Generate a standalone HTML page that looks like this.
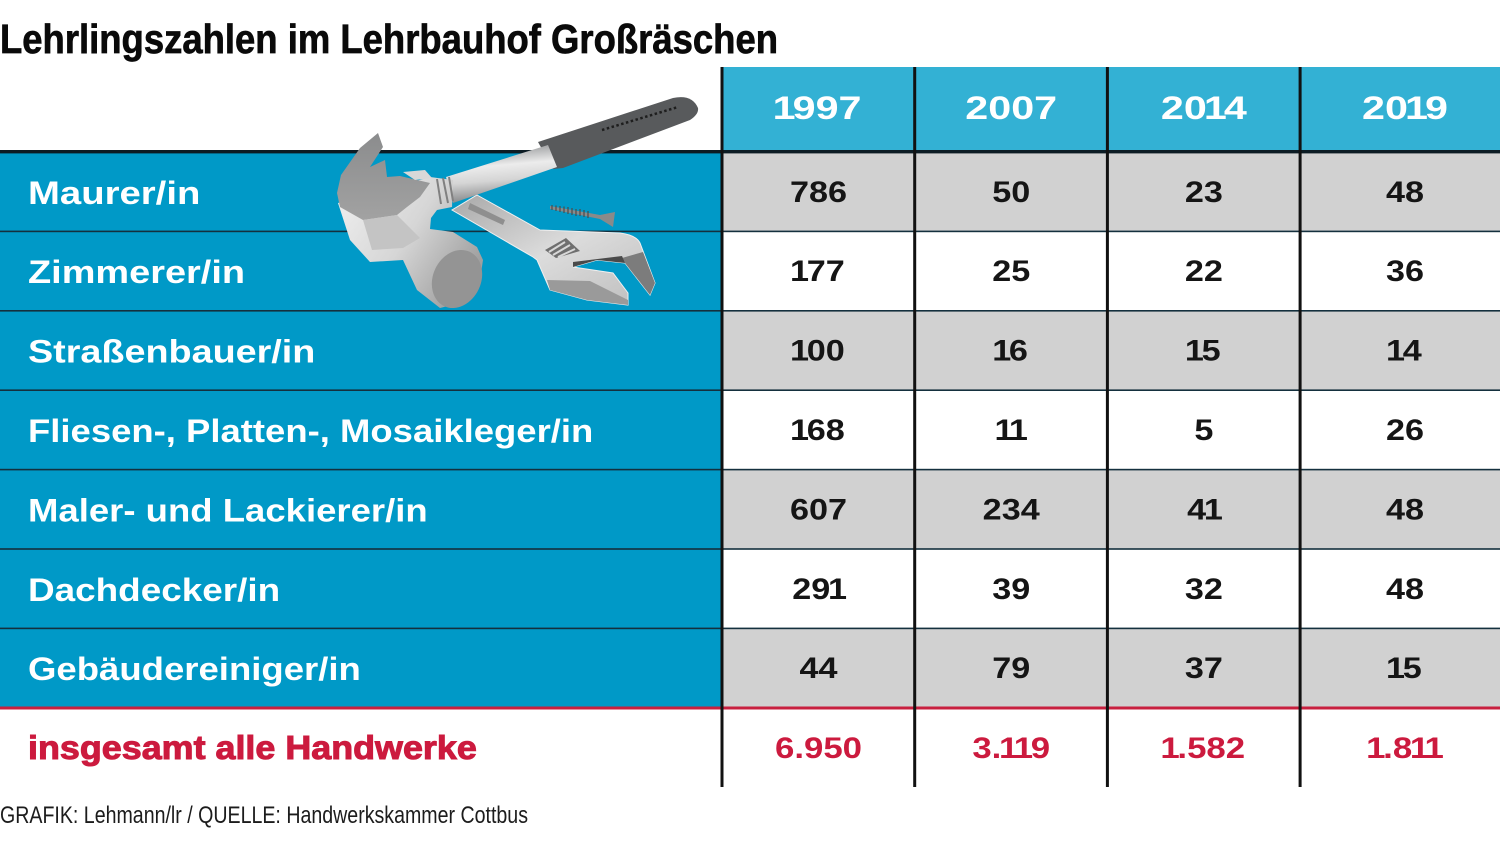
<!DOCTYPE html>
<html lang="de">
<head>
<meta charset="utf-8">
<title>Lehrlingszahlen im Lehrbauhof Großräschen</title>
<style>
html,body{margin:0;padding:0;background:#fff;width:1500px;height:844px;overflow:hidden}
svg{display:block}
text{font-family:"Liberation Sans",sans-serif}
</style>
</head>
<body>
<svg id="chart" xmlns="http://www.w3.org/2000/svg" width="1500" height="844" viewBox="0 0 1500 844">
  <defs>
    <linearGradient id="shaft" x1="0.42" y1="0" x2="0.58" y2="1">
      <stop offset="0" stop-color="#8f9193"/><stop offset=".35" stop-color="#ececec"/><stop offset=".6" stop-color="#d5d5d5"/><stop offset="1" stop-color="#77797b"/>
    </linearGradient>
    <linearGradient id="headGrad" x1="0" y1="0" x2="0" y2="1">
      <stop offset="0" stop-color="#8b8c8d"/><stop offset="1" stop-color="#a2a2a2"/>
    </linearGradient>
    <linearGradient id="cyl" x1="0" y1="0" x2="1" y2="0.6">
      <stop offset="0" stop-color="#f2f2f2"/><stop offset=".55" stop-color="#d6d6d6"/><stop offset="1" stop-color="#a0a0a0"/>
    </linearGradient>
    <linearGradient id="wrench" x1="0" y1="0" x2="1" y2="1">
      <stop offset="0" stop-color="#a8a8a8"/><stop offset=".5" stop-color="#dcdcdc"/><stop offset="1" stop-color="#bdbdbd"/>
    </linearGradient>
  </defs>
  <rect width="1500" height="844" fill="#fff"/>
  <text x="0" y="53" font-size="41" font-weight="700" fill="#0a0a0a" stroke="#0a0a0a" stroke-width="0.7" textLength="778" lengthAdjust="spacingAndGlyphs">Lehrlingszahlen im Lehrbauhof Großräschen</text>
  <g id="table"></g>
  <g>
    <g>
      <path d="M477 195 L540 230 L620 233 Q636 235 640 243 L655 283 L650 295 L625 263 L597 260 L573 267 L613 273 L628 293 L628 305 L587 300 L550 290 L537 260 L533 257 L452 210 Z" fill="url(#wrench)" stroke="#f0f0f0" stroke-width="1"/>
      <path d="M545 250 L566 238 L580 251 L556 258 Z" fill="#6f6f6f"/>
      <path d="M549 252 L565 242 M553 255 L570 245 M558 257 L575 249" stroke="#d8d8d8" stroke-width="2"/>
      <path d="M625 263 L650 295 L655 283 L643 252 L622 258 Z" fill="#7c7c7c"/>
      <path d="M573 262 L622 256 L625 263 L597 260 L573 267 Z" fill="#4a4a4a"/>
      <path d="M547 280 L590 281 L628 300 L628 305 L587 300 L550 290 Z" fill="#9a9a9a"/>
      <path d="M470 203 L505 220 L503 225 L468 209 Z" fill="#8f8f8f"/>
    </g>
    <g>
      <path d="M550 206 L600 215 L615 212 L613 227 L600 219 L550 209 Z" fill="#8a8a8a"/>
      <path d="M552 205 V210 M556 205.500 V211 M560 206 V212 M564 206.500 V213 M568 207 V214 M572 208 V215 M576 209 V216 M580 209 V216 M584 210 V217 M588 211 V218" stroke="#4a4a4a" stroke-width="1.2"/>
    </g>
    <g>
      <path d="M538 142 L673 98 Q692 94 698 108 Q699 114 690 120 L563 168 L553 169 Z" fill="#585a5c"/>
      <path d="M602 130 L678 107" stroke="#1e1e1e" stroke-width="2.5" stroke-dasharray="2.500 2.500"/>
      <path d="M446 177 L548 145 L557 167 L453 203 Z" fill="url(#shaft)"/>
      <path d="M338 203 L350 240 L370 262 L403 260 L417 290 L440 308 L460 303 L480 280 L483 260 L477 247 L453 232 L430 229 L431 218 L437 210 L452 207 L453 180 L430 177 Z" fill="url(#cyl)"/>
      <path d="M378 133 L383 147 L370 167 L385 160 L387 177 L400 176 L430 183 L420 197 L407 207 L397 215 L363 220 L340 207 L337 193 L341 175 L360 148 Z" fill="url(#headGrad)"/>
      <path d="M363 220 L397 215 L420 238 L403 248 L372 250 Z" fill="#c4c4c4"/>
      <ellipse cx="457" cy="279" rx="24" ry="30" transform="rotate(25 457 279)" fill="#949494"/>
      <path d="M437 179 L441 204 M443 178 L448 203 M449 177 L453 201" stroke="#808080" stroke-width="2"/>
      <path d="M403 172 L425 170 L432 178 L415 180 Z" fill="#d8d8d8"/>
    </g>
  </g>
  <text x="0" y="823" font-size="24" fill="#1c1c1c" textLength="528" lengthAdjust="spacingAndGlyphs">GRAFIK: Lehmann/lr / QUELLE: Handwerkskammer Cottbus</text>
</svg>
<script>
const years = ["1997", "2007", "2014", "2019"];
const professions = ["Maurer/in", "Zimmerer/in", "Straßenbauer/in", "Fliesen-, Platten-, Mosaikleger/in", "Maler- und Lackierer/in", "Dachdecker/in", "Gebäudereiniger/in"];
const values1997 = ["786", "177", "100", "168", "607", "291", "44"];
const values2007 = ["50", "25", "16", "11", "234", "39", "79"];
const values2014 = ["23", "22", "15", "5", "41", "32", "37"];
const values2019 = ["48", "36", "14", "26", "48", "48", "15"];
const totalLabel = "insgesamt alle Handwerke";
const totals = ["6.950", "3.119", "1.582", "1.811"];

const table = document.getElementById('table');
const NS = 'http://www.w3.org/2000/svg';
const series = [values1997, values2007, values2014, values2019];
const labelFit = [1.197, 1.185, 1.18, 1.14, 1.141, 1.153, 1.142];
const colEdge = i => 722 + i * 192.7;
const colMid = i => i === 3 ? 1405 : colEdge(i) + 96.5;
const rowTop = r => 152 + r * 79.4;
const rowMid = r => rowTop(r) + 39.3;

function shape(tag, props, parent) {
  const el = document.createElementNS(NS, tag);
  for (const k in props) el.setAttribute(k, props[k]);
  (parent || table).appendChild(el);
  return el;
}
function label(str, x, y, size, sx, fill) {
  const el = shape('text', {
    transform: 'translate(' + x + ',' + y + ') scale(' + sx + ',1)',
    'font-size': size, 'font-weight': 700, fill: fill
  });
  el.textContent = str;
  return el;
}
// numbers: centred per-character layout, the figure "1" takes less room (as in the original typeface)
function numberLabel(str, x, y, size, sx, fill, oneGap) {
  const el = label(str, x, y, size, sx, fill);
  const chars = str.split('');
  const advance = ch => (ch === '.' ? 0.278 * size : 0.556 * size) - (ch === '1' ? oneGap : 0);
  const total = chars.reduce((sum, ch) => sum + advance(ch), 0);
  let pen = -total / 2;
  const xs = chars.map(ch => {
    const pos = ch === '1' ? pen - oneGap / 2 : pen;
    pen += advance(ch);
    return pos.toFixed(2);
  });
  el.setAttribute('x', xs.join(' '));
  return el;
}

// header cells
const headerBg = shape('rect', {x: 722, y: 67, width: 778, height: 85, fill: '#33b1d4'});



// rows
professions.forEach((name, r) => {
  const blue = shape('rect', {x: 0, y: rowTop(r), width: 722, height: 79.4, fill: '#0099c7'});
  
  
  const cell = shape('rect', {x: 722, y: rowTop(r), width: 778, height: 79.4, fill: r % 2 === 0 ? '#d1d1d1' : '#ffffff'});
  
  
});
// horizontal separators
professions.forEach((name, r) => {
  if (r === 0) return;
  const line = shape('rect', {x: 0, y: rowTop(r) - 0.8, width: 1500, height: 1.6, fill: '#14303e'});
  
  
});
const topRule = shape('rect', {x: 0, y: 150, width: 1500, height: 3.4, fill: '#0c1c24'});


const redRule = shape('rect', {x: 0, y: 706.5, width: 1500, height: 3, fill: '#c8203f'});


// vertical lines
years.forEach((y, i) => {
  const line = shape('rect', {x: colEdge(i) - 1.5, y: 67, width: 3, height: 720, fill: '#111'});
  
  
});
// header labels
years.forEach((y, i) => {
  const t = numberLabel(y, colMid(i), 119, 32, 1.29, '#ffffff', 4.5);
  
  
});
// row labels and values
professions.forEach((name, r) => {
  const t = label(name, 28, rowMid(r) + 12.5, 32, labelFit[r], '#ffffff');
  
  
  series.forEach((vals, c) => {
    const v = numberLabel(vals[r], colMid(c), rowMid(r) + 10.5, 30, 1.14, '#151515', 4);
    
    
  });
});
// total row
const totalText = label(totalLabel, 28, 759, 33, 1.088, '#cc1a3e');
totalText.setAttribute('stroke', '#cc1a3e');
totalText.setAttribute('stroke-width', '1');


totals.forEach((v, c) => {
  const t = numberLabel(v, colMid(c), 758, 30, 1.16, '#cc1a3e', 4);
  
  
});
</script>
</body>
</html>
